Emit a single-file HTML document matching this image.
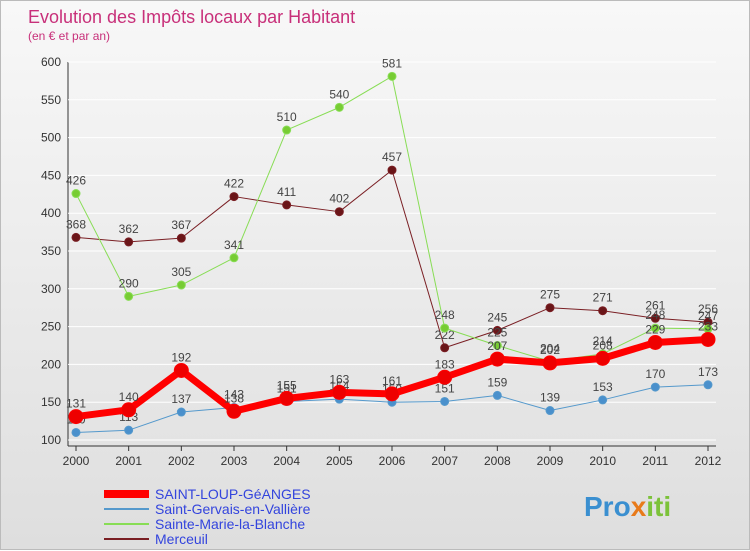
<!DOCTYPE html>
<html><head><meta charset="utf-8"><style>
body{margin:0;width:750px;height:550px;overflow:hidden;background:#fff;font-family:"Liberation Sans",sans-serif}
#wrap{position:absolute;left:0;top:0;width:748px;height:548px;border:1px solid #bbb;background:linear-gradient(#f8f8f8,#dedede)}
</style></head><body>
<div id="wrap">
<svg id="c" width="750" height="550" style="position:absolute;left:0;top:0">
<text x="27" y="22" font-size="18" fill="#c8307a">Evolution des Impôts locaux par Habitant</text>
<text x="27" y="39" font-size="12" fill="#c8307a">(en € et par an)</text>
<text x="583" y="515" font-size="28" font-weight="bold" fill="#3a8fd0">Pro<tspan fill="#e87a1a">x</tspan><tspan fill="#7cc23a">iti</tspan></text>
</svg></div>
<script>
const years=[2000,2001,2002,2003,2004,2005,2006,2007,2008,2009,2010,2011,2012];
const yTicks=[100,150,200,250,300,350,400,450,500,550,600];
const saintLoup=[131,140,192,138,155,163,161,183,207,202,208,229,233];
const saintGervais=[110,113,137,143,151,154,150,151,159,139,153,170,173];
const sainteMarie=[426,290,305,341,510,540,581,248,225,204,214,248,247];
const merceuil=[368,362,367,422,411,402,457,222,245,275,271,261,256];
const seriesNames=["SAINT-LOUP-GéANGES","Saint-Gervais-en-Vallière","Sainte-Marie-la-Blanche","Merceuil"];
const NS="http://www.w3.org/2000/svg",svg=document.getElementById('c');
const x=i=>75+i*(707-75)/12, y=v=>439-(v-100)*378/500;
function mk(t,a,p){const e=document.createElementNS(NS,t);for(const k in a)e.setAttribute(k,a[k]);(p||svg).appendChild(e);return e;}
let ax=mk('line',{x1:67,y1:y(600),x2:67,y2:445,stroke:'#333'});


let bx=mk('line',{x1:67,y1:445,x2:715,y2:445,stroke:'#333'});


yTicks.forEach(v=>{let g=mk('line',{x1:67,y1:y(v),x2:715,y2:y(v),stroke:'#fff','stroke-width':1});


let t=mk('text',{x:60,y:y(v)+4,'font-size':12,'text-anchor':'end',fill:'#333'});t.textContent=v;

});
years.forEach((yr,i)=>{mk('line',{x1:x(i),y1:445,x2:x(i),y2:450,stroke:'#333'});
let t=mk('text',{x:x(i),y:464,'font-size':12,'text-anchor':'middle',fill:'#333'});t.textContent=yr;

});
function series(d,col,w,r,name,dot){
 let p=mk('polyline',{points:d.map((v,i)=>x(i)+','+y(v)).join(' '),fill:'none',stroke:col,'stroke-width':w,'stroke-linejoin':'round'});
 
 
 d.forEach((v,i)=>{let c=mk('circle',{cx:x(i),cy:y(v),r:r,fill:dot,stroke:col,'stroke-width':1});
 
 
 let t=mk('text',{x:x(i),y:y(v)-9,'font-size':12,'text-anchor':'middle',fill:'#444'});t.textContent=v;
 
 });
}
series(merceuil,'#7a1f24',1,4,'merceuil','#6a1518');
series(sainteMarie,'#88dd55',1,4,'sainte-marie','#77cc33');
series(saintGervais,'#5599cc',1,4,'saint-gervais','#4a90cc');
series(saintLoup,'#ff0000',7,7,'saint-loup','#ee0000');
const lc=['#ff0000','#5599cc','#88dd55','#7a1f24'],lw=[8,2,2,2];
seriesNames.forEach((n,i)=>{let yy=493+i*15;
 let l=mk('line',{x1:103,y1:yy,x2:148,y2:yy,stroke:lc[i],'stroke-width':lw[i]});
 
 
 let t=mk('text',{x:154,y:yy+5,'font-size':14,fill:'#3344dd'});t.textContent=n;
 
 });
</script></body></html>
